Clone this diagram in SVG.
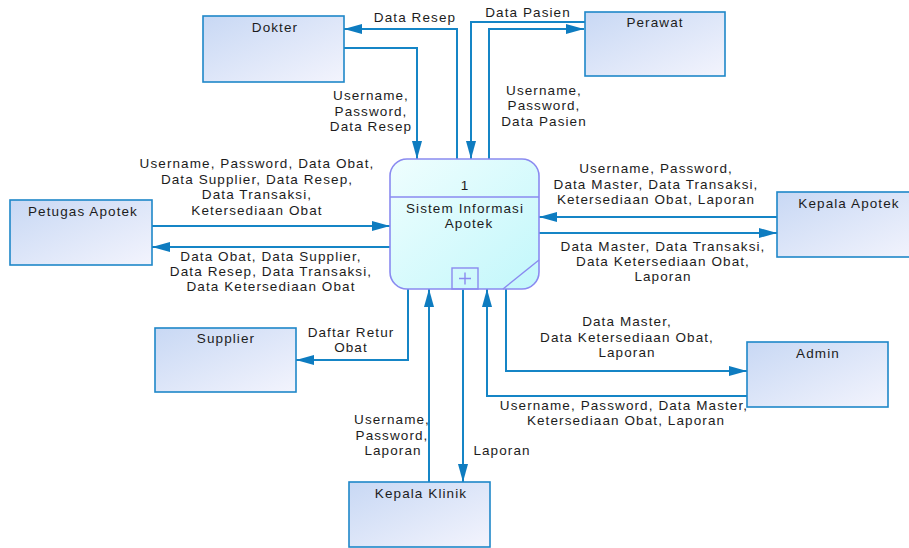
<svg xmlns="http://www.w3.org/2000/svg" width="909" height="548" viewBox="0 0 909 548">
<defs>
<linearGradient id="gBox" x1="0" y1="0" x2="1" y2="1">
<stop offset="0" stop-color="#c8d8f4"/>
<stop offset="1" stop-color="#f3f4fd"/>
</linearGradient>
<linearGradient id="gProc" x1="0" y1="0" x2="1" y2="1">
<stop offset="0" stop-color="#effefe"/>
<stop offset="1" stop-color="#c2f7fb"/>
</linearGradient>
<marker id="ah" markerWidth="18" markerHeight="10" refX="18" refY="5" orient="auto" markerUnits="userSpaceOnUse">
<path d="M0,0 L18,5 L0,10 Z" fill="#0e7cc0"/>
</marker>
</defs>
<style>
.box{fill:url(#gBox);stroke:#1f87c9;stroke-width:1.6}
.proc{fill:url(#gProc);stroke:#8a8af0;stroke-width:1.6}
.pl{fill:none;stroke:#8a8af0;stroke-width:1.4}
.cn{fill:none;stroke:#1585c6;stroke-width:2;marker-end:url(#ah)}
text{font-family:"Liberation Sans",Arial,sans-serif;font-size:13.5px;letter-spacing:1.1px;fill:#1c1c1c;text-anchor:middle}
</style>
<g id="connectors">
<path class="cn" d="M457,159 V29 H344"/>
<path class="cn" d="M344,48 H417 V159"/>
<path class="cn" d="M585,22 H471 V159"/>
<path class="cn" d="M489,159 V29 H584"/>
<path class="cn" d="M152,226 H390"/>
<path class="cn" d="M390,247 H152"/>
<path class="cn" d="M777,217 H539"/>
<path class="cn" d="M539,233 H777"/>
<path class="cn" d="M408,289 V360 H296"/>
<path class="cn" d="M429,482 V289"/>
<path class="cn" d="M463,289 V482"/>
<path class="cn" d="M506,289 V371 H747"/>
<path class="cn" d="M747,396 H487 V289"/>
</g>
<g id="labels">
<text x="415" y="22">Data Resep</text>
<text x="528" y="17">Data Pasien</text>
<text x="371" y="100">Username,</text>
<text x="371" y="116">Password,</text>
<text x="371" y="131">Data Resep</text>
<text x="544" y="95">Username,</text>
<text x="544" y="110">Password,</text>
<text x="544" y="126">Data Pasien</text>
<text x="257" y="168">Username, Password, Data Obat,</text>
<text x="257" y="184">Data Supplier, Data Resep,</text>
<text x="257" y="199">Data Transaksi,</text>
<text x="257" y="215">Ketersediaan Obat</text>
<text x="271" y="261">Data Obat, Data Supplier,</text>
<text x="271" y="276">Data Resep, Data Transaksi,</text>
<text x="271" y="291">Data Ketersediaan Obat</text>
<text x="656" y="173">Username, Password,</text>
<text x="656" y="189">Data Master, Data Transaksi,</text>
<text x="656" y="204">Ketersediaan Obat, Laporan</text>
<text x="663" y="251">Data Master, Data Transaksi,</text>
<text x="663" y="266">Data Ketersediaan Obat,</text>
<text x="663" y="281">Laporan</text>
<text x="351" y="337">Daftar Retur</text>
<text x="351" y="352">Obat</text>
<text x="627" y="326">Data Master,</text>
<text x="627" y="342">Data Ketersediaan Obat,</text>
<text x="627" y="357">Laporan</text>
<text x="624" y="410">Username, Password, Data Master,</text>
<text x="626" y="425">Ketersediaan Obat, Laporan</text>
<text x="392" y="424">Username,</text>
<text x="392" y="440">Password,</text>
<text x="393" y="455">Laporan</text>
<text x="502" y="455">Laporan</text>
</g>
<g id="dokter">
<rect class="box" x="203" y="16" width="141" height="66"/>
<text x="275" y="32">Dokter</text>
</g>
<g id="perawat">
<rect class="box" x="585" y="12" width="140" height="64"/>
<text x="655" y="27">Perawat</text>
</g>
<g id="petugas-apotek">
<rect class="box" x="10" y="200" width="142" height="65"/>
<text x="83" y="216">Petugas Apotek</text>
</g>
<g id="kepala-apotek">
<rect class="box" x="777" y="192" width="144" height="65"/>
<text x="849" y="208">Kepala Apotek</text>
</g>
<g id="supplier">
<rect class="box" x="155" y="328" width="141" height="64"/>
<text x="226" y="343">Supplier</text>
</g>
<g id="admin">
<rect class="box" x="747" y="342" width="141" height="65"/>
<text x="818" y="358">Admin</text>
</g>
<g id="kepala-klinik">
<rect class="box" x="349" y="482" width="141" height="65"/>
<text x="421" y="498">Kepala Klinik</text>
</g>
<g id="process-1">
<rect class="proc" x="390" y="159" width="149" height="130" rx="17" ry="17"/>
<line class="pl" x1="390" y1="197" x2="539" y2="197"/>
<line class="pl" x1="503" y1="289" x2="539" y2="260"/>
<rect class="pl" x="452" y="268" width="26" height="21"/>
<path class="pl" d="M459,278.5 H471 M465,272.5 V284.5"/>
<text x="465" y="190">1</text>
<text x="465" y="213">Sistem Informasi</text>
<text x="469" y="228">Apotek</text>
</g>
</svg>
